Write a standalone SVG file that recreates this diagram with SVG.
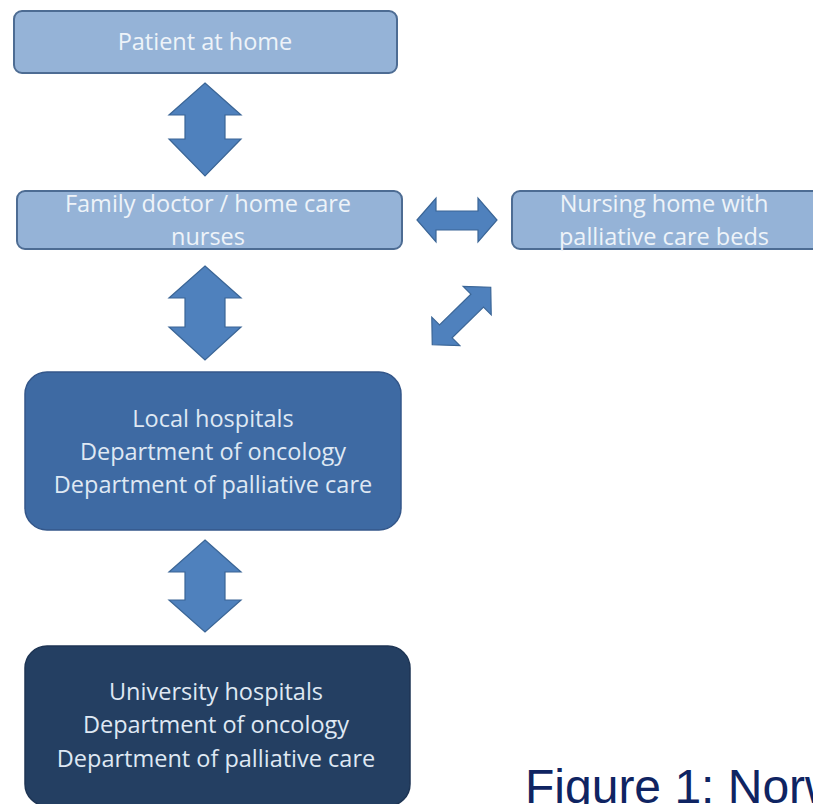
<svg xmlns="http://www.w3.org/2000/svg" width="813" height="804" viewBox="0 0 813 804">
<style>
.light{fill:#95b3d7;stroke:#4d6c93;stroke-width:2}
.mid{fill:#3e6aa3;stroke:#34578a;stroke-width:1.5}
.dark{fill:#243f62;stroke:#1e3554;stroke-width:1.5}
.arr{fill:#4f81bd;stroke:#3a6596;stroke-width:1.2}
text{font-family:"Open Sans","Liberation Sans",sans-serif;text-anchor:middle}
.t1{fill:#eef3f9;font-size:23.5px}
.t2{fill:#dfe8f3;font-size:23.5px}
.cap{font-family:"Liberation Sans",Arial,sans-serif;fill:#0f2462;font-size:48px;text-anchor:start}
</style>
<rect width="813" height="804" fill="#ffffff"/>
<g id="patient">
<rect class="light" x="14" y="11" width="383" height="62" rx="8"/>
<text class="t1" x="205" y="50">Patient at home</text>
</g>
<g id="family">
<rect class="light" x="17" y="191" width="385" height="58" rx="8"/>
<text class="t1" x="208" y="212">Family doctor / home care</text>
<text class="t1" x="208" y="245">nurses</text>
</g>
<g id="nursing">
<rect class="light" x="512" y="191" width="320" height="58" rx="8"/>
<text class="t1" x="664" y="212">Nursing home with</text>
<text class="t1" x="664" y="245">palliative care beds</text>
</g>
<g id="local">
<rect class="mid" x="25" y="372" width="376" height="158" rx="22"/>
<text class="t2" x="213" y="427">Local hospitals</text>
<text class="t2" x="213" y="460">Department of oncology</text>
<text class="t2" x="213" y="493">Department of palliative care</text>
</g>
<g id="university">
<rect class="dark" x="25" y="646" width="385" height="160" rx="22"/>
<text class="t2" x="216" y="700">University hospitals</text>
<text class="t2" x="216" y="733">Department of oncology</text>
<text class="t2" x="216" y="767">Department of palliative care</text>
</g>
<g id="connectors">
<path class="arr" d="M205,83 L241,115 L225,115 L225,139 L241,139 L205,176 L169,139 L185,139 L185,115 L169,115 Z"/>
<path class="arr" d="M205,266 L241,298 L225,298 L225,327 L241,327 L205,360 L169,327 L185,327 L185,298 L169,298 Z"/>
<path class="arr" d="M205,540 L241,572 L225,572 L225,600 L241,600 L205,632 L169,600 L185,600 L185,572 L169,572 Z"/>
<path class="arr" d="M417,220 L436,198 L436,211 L478,211 L478,198 L497,220 L478,242 L478,230 L436,230 L436,242 Z"/>
<path class="arr" transform="translate(461.5,316) rotate(-44.5)" d="M-41,0 L-22,-20 L-22,-9 L22,-9 L22,-20 L41,0 L22,20 L22,9 L-22,9 L-22,20 Z"/>
</g>
<text class="cap" x="525" y="803">Figure 1: Norw</text>
</svg>
